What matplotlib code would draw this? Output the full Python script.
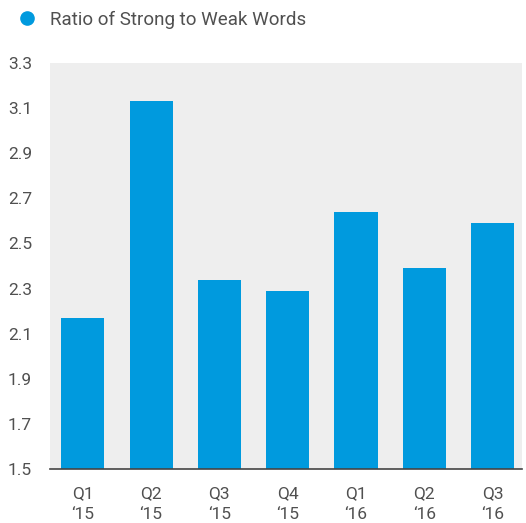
import matplotlib.pyplot as plt
from matplotlib.lines import Line2D

# Data
quarters = ['Q1\n\u201815', 'Q2\n\u201815', 'Q3\n\u201815', 'Q4\n\u201815', 'Q1\n\u201816', 'Q2\n\u201816', 'Q3\n\u201816']
ratio = [2.17, 3.13, 2.34, 2.29, 2.64, 2.39, 2.59]
yticks = [1.5, 1.7, 1.9, 2.1, 2.3, 2.5, 2.7, 2.9, 3.1, 3.3]

blue = '#009ADE'
text_color = '#505050'
plt.rcParams['font.family'] = ['Roboto', 'DejaVu Sans']

fig = plt.figure(figsize=(5.26, 5.23), dpi=100)
ax = fig.add_axes([50 / 526, 54 / 523, 472 / 526, 406 / 523])
ax.set_facecolor('#EEEEEE')

ax.bar(range(len(ratio)), ratio, width=0.63, color=blue, zorder=2)

ax.set_ylim(1.5, 3.3)
ax.set_xlim(-0.48, 6.43)
ax.set_yticks(yticks)
ax.set_yticklabels([f'{t:.1f}' for t in yticks])
ax.set_xticks(range(len(quarters)))
ax.set_xticklabels(quarters, linespacing=1.55)
ax.tick_params(axis='both', length=0, labelsize=12.5, colors=text_color)
ax.tick_params(axis='y', pad=13)
ax.tick_params(axis='x', pad=12)

for side in ['top', 'right', 'left']:
    ax.spines[side].set_visible(False)
ax.spines['bottom'].set_color('#444444')
ax.spines['bottom'].set_linewidth(1.2)
ax.spines['bottom'].set_zorder(3)

# Legend
handle = Line2D([], [], marker='o', linestyle='', markersize=9.5, color=blue)
fig.legend([handle], ['Ratio of Strong to Weak Words'], loc='center left',
           bbox_to_anchor=(0.034, 0.962), frameon=False, fontsize=13.5,
           labelcolor=text_color, handlelength=0.95, handletextpad=0.78,
           borderpad=0, borderaxespad=0)

plt.savefig('out.png')
plt.close()
